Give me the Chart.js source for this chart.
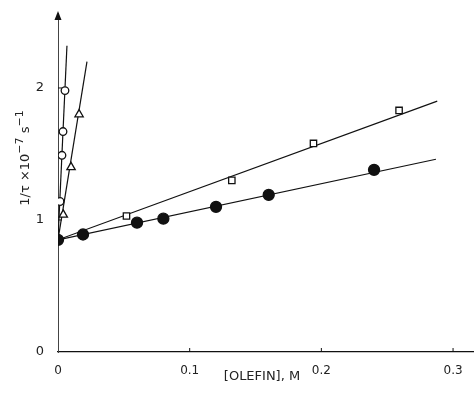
<!DOCTYPE html>
<html>
<head>
<meta charset="utf-8">
<script src="https://cdn.jsdelivr.net/npm/chart.js@4/dist/chart.umd.min.js"></script>
<style>
  html, body { margin: 0; padding: 0; background: #fff; }
  #wrap { width: 474px; height: 400px; }
</style>
</head>
<body>
<div id="wrap"><canvas id="c"></canvas></div>
<script>
// ── data ──
const xTicks = [0, 0.1, 0.2, 0.3];
const yTicks = [0, 1, 2];

// filled circles
const dotX = [0, 0.019, 0.060, 0.080, 0.120, 0.160, 0.240];
const dotY = [0.85, 0.89, 0.98, 1.01, 1.10, 1.19, 1.38];
const dotFitX = [0, 0.287];
const dotFitY = [0.85, 1.46];

// open squares
const sqX = [0.052, 0.132, 0.194, 0.259];
const sqY = [1.03, 1.30, 1.58, 1.83];
const sqFitX = [0, 0.288];
const sqFitY = [0.85, 1.90];

// open circles
const ringX = [0.0015, 0.003, 0.0038, 0.0053];
const ringY = [1.14, 1.49, 1.67, 1.98];
const ringFitX = [0, 0.0068];
const ringFitY = [0.85, 2.32];

// open triangles
const triX = [0.004, 0.0099, 0.016];
const triY = [1.04, 1.40, 1.80];
const triFitX = [0, 0.022];
const triFitY = [0.85, 2.20];

const pts = (xs, ys) => xs.map((x, i) => ({ x, y: ys[i] }));
const FONT = 'DejaVu Sans';
const INK = '#111';

const fitLine = (xs, ys) => ({
  type: 'line', data: pts(xs, ys), borderColor: INK, borderWidth: 1.2,
  pointRadius: 0, fill: false, tension: 0, order: 2
});
const marks = (xs, ys, style, r, filled) => ({
  type: 'scatter', data: pts(xs, ys), pointStyle: style, pointRadius: r,
  pointBackgroundColor: filled ? INK : '#fff', pointBorderColor: INK,
  pointBorderWidth: 1.3, order: 1
});

// y title pieces: [text, size, raise]
const yTitle = [['1/τ ×10', 13, 0], ['−7', 11, 6], [' s', 13, 0], ['−1', 11, 6]];

// axis arrow, inward ticks, axis titles
const decor = {
  id: 'decor',
  afterDraw(chart) {
    const { ctx, chartArea: a, scales: { x, y } } = chart;
    ctx.save();
    ctx.strokeStyle = INK; ctx.fillStyle = INK; ctx.lineWidth = 1;
    // arrow head on y axis
    ctx.beginPath();
    ctx.moveTo(a.left, a.top - 2);
    ctx.lineTo(a.left - 3.5, a.top + 7);
    ctx.lineTo(a.left + 3.5, a.top + 7);
    ctx.closePath(); ctx.fill();
    // small ticks
    xTicks.slice(1).forEach(v => {
      const px = x.getPixelForValue(v);
      ctx.beginPath(); ctx.moveTo(px, a.bottom); ctx.lineTo(px, a.bottom - 4); ctx.stroke();
    });
    yTicks.slice(1).forEach(v => {
      const py = y.getPixelForValue(v);
      ctx.beginPath(); ctx.moveTo(a.left, py); ctx.lineTo(a.left + 4, py); ctx.stroke();
    });
    // x title
    ctx.fillStyle = '#222';
    ctx.textAlign = 'center'; ctx.textBaseline = 'middle';
    ctx.font = '13px "' + FONT + '"';
    ctx.fillText('[OLEFIN], M', 262, 377);
    // y title, rotated, with raised exponents
    ctx.textAlign = 'left'; ctx.textBaseline = 'alphabetic';
    const w = yTitle.reduce((s, [t, sz]) => {
      ctx.font = sz + 'px "' + FONT + '"'; return s + ctx.measureText(t).width;
    }, 0);
    ctx.translate(29, 158); ctx.rotate(-Math.PI / 2);
    let cx = -w / 2;
    yTitle.forEach(([t, sz, up]) => {
      ctx.font = sz + 'px "' + FONT + '"';
      ctx.fillText(t, cx, -up);
      cx += ctx.measureText(t).width;
    });
    ctx.restore();
  }
};

new Chart(document.getElementById('c'), {
  data: {
    datasets: [
      fitLine(dotFitX, dotFitY),
      fitLine(sqFitX, sqFitY),
      fitLine(ringFitX, ringFitY),
      fitLine(triFitX, triFitY),
      marks(dotX, dotY, 'circle', 5.5, true),
      marks(sqX, sqY, 'rect', 4.5, false),
      marks(ringX, ringY, 'circle', 3.8, false),
      marks(triX, triY, 'triangle', 4.8, false)
    ]
  },
  options: {
    responsive: true, maintainAspectRatio: false, animation: false,
    layout: { autoPadding: false, padding: { left: 0, right: 0, top: 13, bottom: 0 } },
    plugins: { legend: { display: false }, tooltip: { enabled: false } },
    scales: {
      x: {
        type: 'linear', min: 0, max: 0.3159,
        afterFit: s => { s.height = 48; s.paddingLeft = 0; s.paddingRight = 0; },
        afterBuildTicks: s => { s.ticks = xTicks.map(v => ({ value: v })); },
        grid: { display: false },
        border: { display: true, color: INK, width: 1.3 },
        ticks: { padding: 4, color: '#222', font: { family: FONT, size: 12 },
                 callback: v => String(v) }
      },
      y: {
        type: 'linear', min: 0, max: 2.568,
        afterFit: s => { s.width = 58; s.paddingTop = 0; s.paddingBottom = 0; },
        afterBuildTicks: s => { s.ticks = yTicks.map(v => ({ value: v })); },
        grid: { display: false },
        border: { display: true, color: '#444', width: 1 },
        ticks: { padding: 6, color: '#222', font: { family: FONT, size: 13 } }
      }
    }
  },
  plugins: [decor]
});
</script>
</body>
</html>
